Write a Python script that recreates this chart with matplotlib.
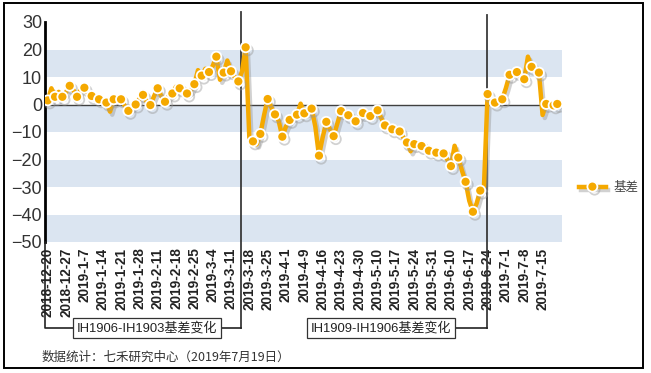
import numpy as np
import matplotlib
matplotlib.use("Agg")
import matplotlib.pyplot as plt
import matplotlib.patheffects as pe
from matplotlib.lines import Line2D
from matplotlib.patches import Rectangle
import matplotlib.transforms as mtransforms

plt.rcParams['font.family'] = ['Liberation Sans', 'Noto Sans CJK SC', 'DejaVu Sans']

# basis (IH next - IH current), one value per trading day 2018-12-20 .. 2019-7-19
basis = [
    1.5, 5.9, 2.8, 4.6, 2.8, 4.5, 6.8, 5.3, 2.8, 5.3,
    6.1, 4.0, 3.1, 2.5, 1.9, 1.0, 0.7, -2.6, 1.9, 1.9,
    1.9, -0.5, -2.3, -1.0, 0.0, 2.0, 3.5, 1.0, -0.2, 3.0,
    5.9, 3.0, 1.0, 3.0, 4.0, 6.5, 5.9, 5.0, 4.0, 5.0,
    7.4, 12.5, 10.5, 13.0, 11.8, 14.0, 17.4, 9.0, 11.6, 16.0,
    12.1, 10.0, 8.4, 12.0, 20.8, -12.0, -13.4, -14.5, -10.7, -4.0,
    2.0, -1.0, -3.6, -6.0, -11.7, -8.0, -5.6, -4.5, -3.7, 0.3,
    -3.2, -3.0, -1.5, -8.0, -18.6, -12.0, -6.3, -9.0, -11.5, -7.0,
    -2.4, -3.0, -3.9, -5.5, -6.1, -4.5, -3.1, -3.5, -4.2, -2.5,
    -2.1, -5.0, -7.6, -8.5, -9.0, -9.5, -9.8, -12.0, -13.8, -17.0,
    -14.4, -14.8, -15.1, -16.0, -16.8, -17.0, -17.5, -17.6, -17.8, -20.0,
    -22.4, -15.0, -19.3, -24.0, -28.1, -35.0, -39.0, -36.0, -31.3, -30.0,
    3.8, 1.0, 0.7, 1.0, 1.9, 6.0, 10.8, 12.0, 11.8, 10.0,
    9.2, 17.4, 13.7, 12.0, 11.6, -3.8, 0.2, 0.0, -0.3, 0.2,
]

# weekly labels, every 5th trading day
tick_labels = [
    "2018-12-20", "2018-12-27", "2019-1-7", "2019-1-14", "2019-1-21", "2019-1-28",
    "2019-2-11", "2019-2-18", "2019-2-25", "2019-3-4", "2019-3-11", "2019-3-18",
    "2019-3-25", "2019-4-1", "2019-4-9", "2019-4-16", "2019-4-23", "2019-4-30",
    "2019-5-10", "2019-5-17", "2019-5-24", "2019-5-31", "2019-6-10", "2019-6-17",
    "2019-6-24", "2019-7-1", "2019-7-8", "2019-7-15",
]
tick_step = 5

# contract roll positions (between trading days) and their labels
roll_pos = [52.7, 119.8]
roll_labels = ["IH1906-IH1903基差变化", "IH1909-IH1906基差变化"]

series_name = "基差"
source_text = "数据统计：七禾研究中心（2019年7月19日）"

orange = "#F5A900"
band_color = "#DBE5F1"

W, H = 651, 373
fig = plt.figure(figsize=(W / 100, H / 100), dpi=100)
ax = fig.add_axes([45 / W, 131 / H, 517 / W, 220 / H])

x = np.arange(len(basis))
ax.set_xlim(-0.74, 140.3)
ax.set_ylim(-50, 30)

# alternating bands
for lo in (10, -10, -30, -50):
    ax.axhspan(lo, lo + 10, color=band_color, lw=0, zorder=0)
ax.axhline(0, color="#404040", lw=1.0, zorder=1)

marks = list(range(0, len(basis), 2)) + [len(basis) - 1]
line, = ax.plot(x, basis, color=orange, lw=3.2, marker="o", markersize=7.2,
                markerfacecolor=orange, markeredgecolor="white", markeredgewidth=1.3,
                markevery=marks, solid_joinstyle="round", zorder=4, label=series_name,
                path_effects=[pe.SimpleLineShadow(offset=(1.6, -2.2), shadow_color="#9a9a9a", alpha=0.45),
                              pe.Normal()])

# axes styling
for s in ("top", "right", "bottom"):
    ax.spines[s].set_visible(False)
ax.spines["left"].set_linewidth(2.0)
ax.spines["left"].set_color("black")
ax.set_yticks(np.arange(-50, 31, 10))
ax.tick_params(axis="y", length=0, pad=2, labelsize=13, labelcolor="#333333")
ax.set_xticks(x[::tick_step])
ax.set_xticklabels(tick_labels, rotation=90, fontsize=9.8, fontweight="bold", color="#222222")
ax.tick_params(axis="x", length=0, pad=4)

# roll brackets: x in data, y in figure
blend = mtransforms.blended_transform_factory(ax.transData, fig.transFigure)
y_top = [1 - 12 / H, 1 - 15 / H]
y_br = 1 - 328 / H
for xp, yt in zip(roll_pos, y_top):
    ax.add_line(Line2D([xp, xp], [yt, y_br], transform=blend, color="#3a3a3a", lw=1.3,
                       clip_on=False, zorder=3))
# first bracket runs back to the y axis, second only out to its box
x0 = ax.get_xlim()[0]
ax.add_line(Line2D([x0, x0, roll_pos[0]], [1 - 242 / H, y_br, y_br], transform=blend,
                   color="#222222", lw=1.2, clip_on=False, zorder=3))
box_cx = [27.0, 90.9]
ax.add_line(Line2D([box_cx[1], roll_pos[1]], [y_br, y_br], transform=blend,
                   color="#222222", lw=1.2, clip_on=False, zorder=3))
for cx, lab in zip(box_cx, roll_labels):
    ax.text(cx, y_br, lab, transform=blend, ha="center", va="center", fontsize=9.4,
            color="#222222", zorder=5,
            bbox=dict(boxstyle="square,pad=0.3", fc="white", ec="#333333", lw=0.9))

# legend
ax.legend(handles=[line], loc="center left", bbox_to_anchor=(568 / W, 1 - 188 / H),
          bbox_transform=fig.transFigure, frameon=False, fontsize=9, handlelength=2.1,
          handletextpad=0.6, labelcolor="#444444")

fig.text(42 / W, 1 - 357 / H, source_text, ha="left", va="center", fontsize=9,
         color="#333333", family=["Noto Sans CJK SC", "DejaVu Sans"])

# outer border
fig.add_artist(Rectangle((4 / W, 1 - 368 / H), 639 / W, 365 / H, transform=fig.transFigure,
                         fill=False, ec="black", lw=1.4))

fig.savefig("out.png", dpi=100)
